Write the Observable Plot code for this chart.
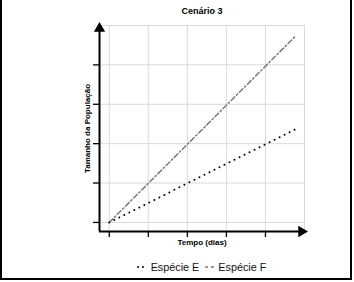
<!DOCTYPE html>
<html>
<head>
<meta charset="utf-8">
<script src="https://cdn.jsdelivr.net/npm/d3@7"></script>
<script src="https://cdn.jsdelivr.net/npm/@observablehq/plot@0.6"></script>
<style>
  html, body { margin: 0; padding: 0; background: #fff; }
  #wrap { position: relative; width: 354px; height: 282px; overflow: hidden; font-family: "Liberation Sans", Arial, sans-serif; }
  #frame { position: absolute; left: 0; top: -3px; width: 348px; height: 279px; border: 2px solid #000; box-sizing: content-box; }
  #chart { position: absolute; left: 0; top: 0; }
  #legend { position: absolute; left: 101px; width: 200px; top: 261px; text-align: center; font-size: 10.8px; color: #111; white-space: nowrap; }
  #legend span.item { display: inline-flex; align-items: center; margin: 0 2px; }
  #legend svg { margin-right: 3px; }
</style>
</head>
<body>
<div id="wrap">
  <div id="frame"></div>
  <div id="chart"></div>
  <div id="legend"></div>
</div>
<script>
// Data (grid units)
const title = "Cenário 3";
const xLabel = "Tempo (dias)";
const yLabel = "Tamanho da População";
const seriesNames = ["Espécie E", "Espécie F"];
const tempoE = [0, 4.82];
const popE = [0, 2.39];
const tempoF = [0, 4.77];
const popF = [0, 4.73];
const gridValues = [0, 1, 2, 3, 4, 5];
const tickValues = [0, 1, 2, 3, 4];

const dataE = tempoE.map((t, i) => ({t, p: popE[i]}));
const dataF = tempoF.map((t, i) => ({t, p: popF[i]}));

const x0 = -0.25, y0 = -0.23, xMax = 5, yMax = 5;

const chart = Plot.plot({
  width: 354,
  height: 282,
  marginLeft: 99,
  marginRight: 50,
  marginTop: 25,
  marginBottom: 51,
  style: {fontFamily: "Liberation Sans, Arial, sans-serif", background: "transparent", overflow: "visible"},
  x: {domain: [x0, xMax]},
  y: {domain: [y0, yMax]},
  marks: [
    Plot.gridX(gridValues, {stroke: "#d9d9d9", strokeOpacity: 1, strokeWidth: 1}),
    Plot.gridY(gridValues, {stroke: "#d9d9d9", strokeOpacity: 1, strokeWidth: 1}),
    Plot.axisX({ticks: tickValues, tickFormat: () => "", tickSize: 6, strokeWidth: 1.3, label: null, stroke: "#000"}),
    Plot.axisY({ticks: tickValues, tickFormat: () => "", tickSize: 6, strokeWidth: 1.3, label: null, stroke: "#000"}),
    // axis lines with arrowheads
    Plot.ruleX([x0], {y1: y0, y2: yMax, stroke: "#000", strokeWidth: 2}),
    Plot.ruleY([y0], {x1: x0, x2: xMax, stroke: "#000", strokeWidth: 2}),
    Plot.dot([{x: x0, y: yMax}], {x: "x", y: "y", symbol: "triangle", r: 4.2, fill: "#000", stroke: "none", dy: 3}),
    Plot.dot([{x: xMax, y: y0}], {x: "x", y: "y", symbol: "triangle", r: 4.2, fill: "#000", stroke: "none", rotate: 90, dx: -3}),
    // series
    Plot.line(dataF, {x: "t", y: "p", stroke: "#7a7a7a", strokeWidth: 1.5, strokeDasharray: "5,2.5,1.5,2.5"}),
    Plot.line(dataE, {x: "t", y: "p", stroke: "#000", strokeWidth: 2, strokeDasharray: "0,5.6", strokeLinecap: "round"}),
    // texts
    Plot.text([title], {frameAnchor: "top", dy: -18, fontWeight: "bold", fontSize: 9, fill: "#000"}),
    Plot.text([xLabel], {frameAnchor: "bottom", dy: 13, fontWeight: "bold", fontSize: 8, fill: "#000"}),
    Plot.text([yLabel], {frameAnchor: "left", textAnchor: "middle", dx: -12, rotate: -90, fontWeight: "bold", fontSize: 8, fill: "#000"})
  ]
});
document.getElementById("chart").appendChild(chart);

// Legend
const legend = document.getElementById("legend");
const swatches = [
  {stroke: "#000", dash: "0,5", width: 2, cap: "round"},
  {stroke: "#7a7a7a", dash: "3,3", width: 1.5, cap: "butt"}
];
seriesNames.forEach((name, i) => {
  const s = swatches[i];
  const item = document.createElement("span");
  item.className = "item";
  item.innerHTML = `<svg width="12" height="8"><line x1="2" y1="4" x2="12" y2="4" stroke="${s.stroke}" stroke-width="${s.width}" stroke-dasharray="${s.dash}" stroke-linecap="${s.cap}"/></svg>${name}`;
  legend.appendChild(item);
});
</script>
</body>
</html>
